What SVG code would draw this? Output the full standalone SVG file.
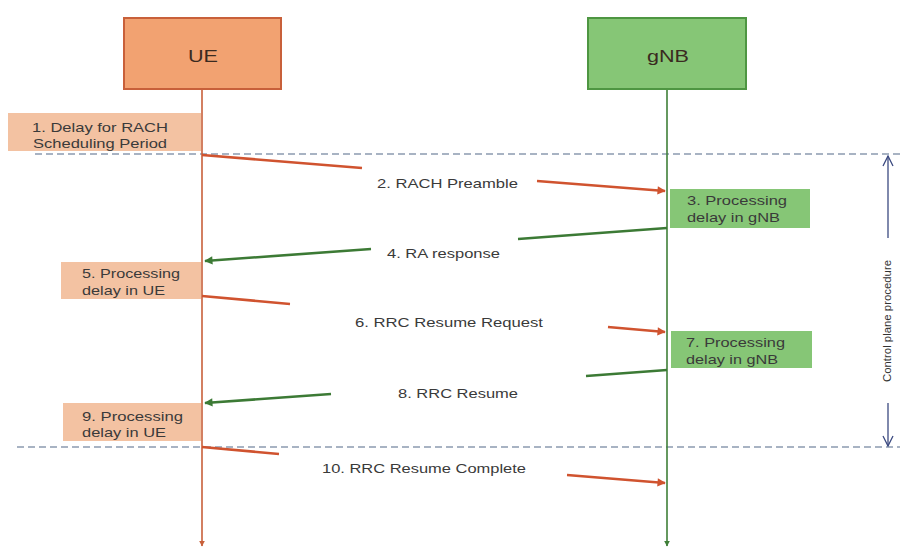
<svg xmlns="http://www.w3.org/2000/svg" width="900" height="547" viewBox="0 0 900 547">
  <style>
    text { font-family: "Liberation Sans", Arial, sans-serif; fill: #3a3a3a; }
    .head { font-size: 17px; fill: #3a2a20; }
    .lbl { font-size: 13.5px; }
    .note { font-size: 13.5px; }
    .side { font-size: 11px; fill: #333; }
    .ue-life { stroke: #c8603a; stroke-width: 1.6; fill: none; }
    .gnb-life { stroke: #3f7f38; stroke-width: 1.6; fill: none; }
    .up { stroke: #d0532f; stroke-width: 2.6; fill: none; }
    .down { stroke: #3c7a35; stroke-width: 2.6; fill: none; }
    .sep { stroke: #8c9bb0; stroke-width: 1.3; stroke-dasharray: 7 4; fill: none; }
    .span { stroke: #3b4a80; stroke-width: 1.3; fill: none; }
  </style>
  <defs>
    <marker id="tipRed" viewBox="0 0 10 10" refX="9" refY="5" markerWidth="4" markerHeight="3.2" orient="auto" markerUnits="strokeWidth">
      <path d="M0,0 L10,5 L0,10 Z" fill="#d0532f"/>
    </marker>
    <marker id="tipGreen" viewBox="0 0 10 10" refX="9" refY="5" markerWidth="4" markerHeight="3.2" orient="auto" markerUnits="strokeWidth">
      <path d="M0,0 L10,5 L0,10 Z" fill="#3c7a35"/>
    </marker>
    <marker id="endUE" viewBox="0 0 10 10" refX="9" refY="5" markerWidth="6" markerHeight="6" orient="auto" markerUnits="userSpaceOnUse">
      <path d="M0,0 L10,5 L0,10 Z" fill="#c8603a"/>
    </marker>
    <marker id="endGNB" viewBox="0 0 10 10" refX="9" refY="5" markerWidth="6" markerHeight="6" orient="auto" markerUnits="userSpaceOnUse">
      <path d="M0,0 L10,5 L0,10 Z" fill="#3f7f38"/>
    </marker>
    <marker id="openV" viewBox="0 0 12 12" refX="11" refY="6" markerWidth="12" markerHeight="12" orient="auto" markerUnits="userSpaceOnUse">
      <path d="M1,1 L11,6 L1,11" fill="none" stroke="#3b4a80" stroke-width="1.3"/>
    </marker>
  </defs>

  <rect width="900" height="547" fill="#ffffff"/>

  <!-- separators of the control plane span -->
  <line class="sep" x1="35" y1="154" x2="900" y2="154"/>
  <line class="sep" x1="17" y1="447" x2="900" y2="447"/>

  <!-- lifelines -->
  <g id="lifelines">
    <line class="ue-life" x1="202" y1="89" x2="202" y2="546" marker-end="url(#endUE)"/>
    <line class="gnb-life" x1="667" y1="89" x2="667" y2="546" marker-end="url(#endGNB)"/>
  </g>

  <!-- entities -->
  <g id="ue">
    <rect x="124" y="18" width="157" height="71" fill="#f2a271" stroke="#c8603a" stroke-width="2"/>
    <text class="head" x="203" y="62" text-anchor="middle" textLength="30" lengthAdjust="spacingAndGlyphs">UE</text>
  </g>
  <g id="gnb">
    <rect x="588" y="18" width="158" height="71" fill="#86c676" stroke="#4e9642" stroke-width="2"/>
    <text class="head" x="668" y="62" text-anchor="middle" textLength="42" lengthAdjust="spacingAndGlyphs">gNB</text>
  </g>

  <!-- delay notes -->
  <g id="step1">
    <rect x="8" y="113" width="193" height="38" fill="#f3c2a2"/>
    <text class="note" x="32" y="132" textLength="136" lengthAdjust="spacingAndGlyphs">1. Delay for RACH</text>
    <text class="note" x="33" y="148" textLength="134" lengthAdjust="spacingAndGlyphs">Scheduling Period</text>
  </g>
  <g id="step3">
    <rect x="670" y="189" width="140" height="39" fill="#86c676"/>
    <text class="note" x="687" y="205" textLength="100" lengthAdjust="spacingAndGlyphs">3. Processing</text>
    <text class="note" x="687" y="222" textLength="93" lengthAdjust="spacingAndGlyphs">delay in gNB</text>
  </g>
  <g id="step5">
    <rect x="61" y="262" width="140" height="37" fill="#f3c2a2"/>
    <text class="note" x="82" y="278" textLength="98" lengthAdjust="spacingAndGlyphs">5. Processing</text>
    <text class="note" x="82" y="295" textLength="83" lengthAdjust="spacingAndGlyphs">delay in UE</text>
  </g>
  <g id="step7">
    <rect x="671" y="331" width="141" height="37" fill="#86c676"/>
    <text class="note" x="686" y="347" textLength="99" lengthAdjust="spacingAndGlyphs">7. Processing</text>
    <text class="note" x="686" y="364" textLength="92" lengthAdjust="spacingAndGlyphs">delay in gNB</text>
  </g>
  <g id="step9">
    <rect x="63" y="403" width="138" height="38" fill="#f3c2a2"/>
    <text class="note" x="82" y="421" textLength="101" lengthAdjust="spacingAndGlyphs">9. Processing</text>
    <text class="note" x="82" y="437" textLength="84" lengthAdjust="spacingAndGlyphs">delay in UE</text>
  </g>

  <!-- messages, each line broken around its label -->
  <g id="connectors">
    <line class="up" x1="202" y1="155" x2="362" y2="168"/>
    <line class="up" x1="537" y1="181" x2="665" y2="191" marker-end="url(#tipRed)"/>

    <line class="down" x1="667" y1="228" x2="518" y2="239"/>
    <line class="down" x1="371" y1="249" x2="205" y2="261" marker-end="url(#tipGreen)"/>

    <line class="up" x1="202" y1="296" x2="290" y2="304"/>
    <line class="up" x1="608" y1="327" x2="665" y2="332" marker-end="url(#tipRed)"/>

    <line class="down" x1="667" y1="370" x2="586" y2="376"/>
    <line class="down" x1="331" y1="394" x2="205" y2="403" marker-end="url(#tipGreen)"/>

    <line class="up" x1="202" y1="447" x2="279" y2="454"/>
    <line class="up" x1="567" y1="475" x2="665" y2="483" marker-end="url(#tipRed)"/>

    <!-- span of the control plane procedure -->
    <line class="span" x1="888" y1="238" x2="888" y2="156" marker-end="url(#openV)"/>
    <line class="span" x1="888" y1="403" x2="888" y2="446" marker-end="url(#openV)"/>
  </g>

  <!-- message labels -->
  <g id="labels">
    <text class="lbl" x="377" y="188" textLength="141" lengthAdjust="spacingAndGlyphs">2. RACH Preamble</text>
    <text class="lbl" x="387" y="258" textLength="113" lengthAdjust="spacingAndGlyphs">4. RA response</text>
    <text class="lbl" x="355" y="327" textLength="188" lengthAdjust="spacingAndGlyphs">6. RRC Resume Request</text>
    <text class="lbl" x="398" y="398" textLength="120" lengthAdjust="spacingAndGlyphs">8. RRC Resume</text>
    <text class="lbl" x="322" y="473" textLength="204" lengthAdjust="spacingAndGlyphs">10. RRC Resume Complete</text>
    <text class="side" transform="translate(891,321) rotate(-90)" text-anchor="middle" textLength="122" lengthAdjust="spacingAndGlyphs">Control plane procedure</text>
  </g>
</svg>
